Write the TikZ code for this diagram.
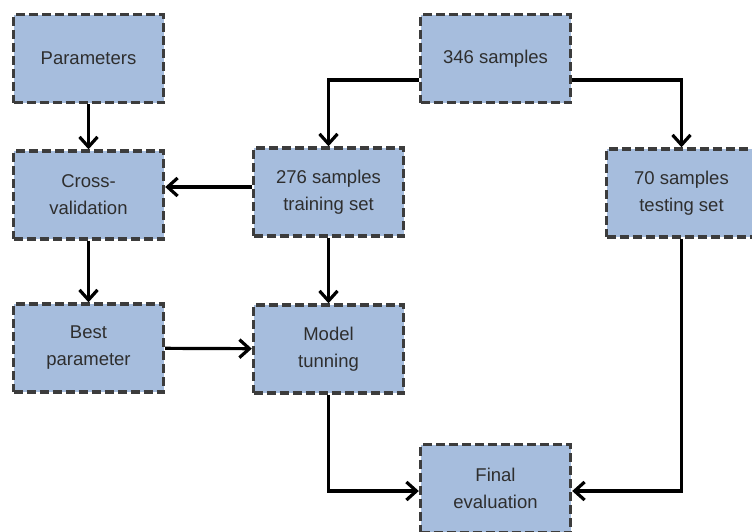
\documentclass[tikz,border=0pt]{standalone}
\usepackage{fontspec}
\setmainfont{Liberation Sans}
\usetikzlibrary{arrows.meta}
\definecolor{boxfill}{HTML}{A6BDDD}
\definecolor{boxline}{HTML}{3C3C3C}
\definecolor{boxtext}{HTML}{2E2E2E}

\begin{document}
\begin{tikzpicture}[
        x=1pt, y=1pt,
        stage/.style = {rectangle, draw=boxline, fill=boxfill, line width=3.4pt,
          dash pattern=on 9pt off 4pt, minimum width=150pt, minimum height=88pt,
          align=center, text=boxtext, font=\fontsize{18.5}{27}\selectfont},
        flow/.style = {draw=black, line width=3.2pt,
          -{Straight Barb[length=10pt, width=18pt, line width=3.2pt]}},
      ]

      \useasboundingbox (0,0) rectangle (752,-531);
      \clip (0,0) rectangle (752,-531);

      \node[stage] (params) at (88.5,-58.5) {Parameters};
      \node[stage] (total)  at (495.5,-58.5) {346 samples};
      \node[stage] (crossval) at (88.5,-195) {Cross-\\validation};
      \node[stage] (train) at (328.5,-192) {276 samples\\training set};
      \node[stage] (test)  at (681.5,-193) {70 samples\\testing set};
      \node[stage] (best)  at (88.5,-348) {Best\\parameter};
      \node[stage] (tune)  at (328.5,-349) {Model\\tunning};
      \node[stage] (final) at (495.5,-488.5) {Final\\evaluation};

      \draw[flow] (total.west |- 0,-80) -| (train.north);
      \draw[flow] (total.east |- 0,-80) -| (test.north);
      \draw[flow] (params) -- (crossval);
      \draw[flow] (train.west |- 0,-187) -- (crossval.east |- 0,-187);
      \draw[flow] (crossval) -- (best);
      \draw[flow] (train) -- (tune);
      \draw[flow] (best) -- (tune);
      \draw[flow] (tune.south) |- (final.west |- 0,-491);
      \draw[flow] (test.south) |- (final.east |- 0,-491);

    \end{tikzpicture}
\end{document}
